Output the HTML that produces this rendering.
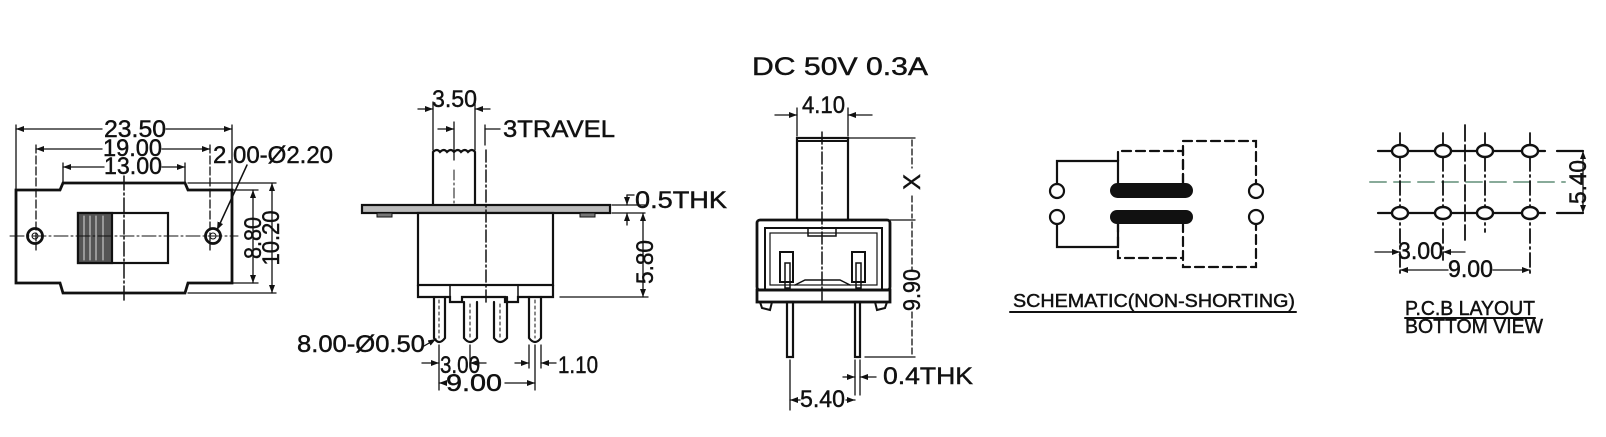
<!DOCTYPE html>
<html><head><meta charset="utf-8"><style>
html,body{margin:0;padding:0;background:#fff;}
svg{display:block;}
text{font-family:"Liberation Sans",sans-serif;fill:#111;stroke:#111;stroke-width:0.45;}
</style></head><body>
<svg width="1606" height="437" viewBox="0 0 1606 437" xmlns="http://www.w3.org/2000/svg">
<defs>
<marker id="a" markerWidth="8" markerHeight="6" refX="8" refY="3" orient="auto-start-reverse" markerUnits="userSpaceOnUse"><path d="M0,0 L8,3 L0,6 Z" fill="#111" stroke="none"/></marker>
</defs>
<g stroke="#111" fill="none" stroke-linecap="round">
<!-- ===== VIEW 1 ===== -->
<path d="M16,190 L60,190 L63,183 L185,183 L188,190 L232,190 L232,283 L188,283 L185,293 L63,293 L60,283 L16,283 Z" stroke-width="2.8"/>
<circle cx="35" cy="236" r="7.5" stroke-width="2.8"/><circle cx="35" cy="236" r="3" stroke-width="1"/>
<circle cx="213" cy="236" r="7.5" stroke-width="2.8"/><circle cx="213" cy="236" r="3" stroke-width="1"/>
<rect x="78" y="213" width="90" height="50" stroke-width="2.2"/>
<rect x="78" y="213" width="34" height="50" fill="#555" stroke-width="2.2"/>
<g stroke="#ddd" stroke-width="1"><line x1="84" y1="216" x2="84" y2="260"/><line x1="90" y1="216" x2="90" y2="260"/><line x1="96" y1="216" x2="96" y2="260"/><line x1="103" y1="216" x2="103" y2="260"/></g>
<line x1="124" y1="176" x2="124" y2="300" stroke-width="1.5" stroke-dasharray="14,3,2,3"/>
<line x1="10" y1="236" x2="238" y2="236" stroke-width="1" stroke-dasharray="14,3,2,3"/>
<g stroke-width="1.3">
<line x1="16" y1="125" x2="16" y2="190"/><line x1="232" y1="125" x2="232" y2="190"/>
<line x1="16" y1="129" x2="102" y2="129" marker-start="url(#a)"/><line x1="166" y1="129" x2="232" y2="129" marker-end="url(#a)"/>
<line x1="36" y1="145" x2="36" y2="250" stroke-dasharray="8,3"/><line x1="210" y1="145" x2="210" y2="250" stroke-dasharray="8,3"/>
<line x1="36" y1="149" x2="102" y2="149" marker-start="url(#a)"/><line x1="162" y1="149" x2="210" y2="149" marker-end="url(#a)"/>
<line x1="63" y1="163" x2="63" y2="183"/><line x1="185" y1="163" x2="185" y2="183"/>
<line x1="63" y1="167" x2="104" y2="167" marker-start="url(#a)"/><line x1="162" y1="167" x2="185" y2="167" marker-end="url(#a)"/>
<line x1="188" y1="183" x2="276" y2="183"/><line x1="232" y1="190" x2="258" y2="190"/>
<line x1="232" y1="283" x2="258" y2="283"/><line x1="188" y1="293" x2="276" y2="293"/>
<line x1="253" y1="190" x2="253" y2="283" marker-start="url(#a)" marker-end="url(#a)"/>
<line x1="272" y1="183" x2="272" y2="293" marker-start="url(#a)" marker-end="url(#a)"/>
<line x1="247" y1="165" x2="217" y2="230" stroke-width="1.5" marker-end="url(#a)"/>
</g>

<!-- ===== VIEW 2 ===== -->
<path d="M433,205 L433,152 Q437,148 440,152 Q444,148 447,152 Q451,148 454,152 Q458,148 461,152 Q465,148 468,152 Q472,148 475,152 L475,205" stroke-width="2.2"/>
<rect x="362" y="205" width="248" height="8" stroke-width="2.2" fill="#bbb"/>
<rect x="377" y="213" width="15" height="4" fill="#777" stroke-width="1"/><rect x="580" y="213" width="15" height="4" fill="#777" stroke-width="1"/>
<rect x="418" y="213" width="135" height="72" stroke-width="2.2" fill="#fff"/>
<path d="M418,285 L418,297 L450,297 L450,302 L462,302 L462,297 L505,297 L505,302 L518,302 L518,297 L553,297 L553,285" stroke-width="2.2"/>
<line x1="450" y1="285" x2="450" y2="297" stroke-width="1.5"/><line x1="518" y1="285" x2="518" y2="297" stroke-width="1.5"/>
<g stroke-width="2.2">
<path d="M434,297 L434,338 Q439,346 445,338 L445,297"/>
<path d="M464,302 L464,338 Q470,346 477,338 L477,302"/>
<path d="M494,302 L494,338 Q500,346 507,338 L507,297"/>
<path d="M529,297 L529,338 Q535,346 541,338 L541,297"/>
</g>
<g stroke-width="1" stroke-dasharray="3,3"><line x1="439" y1="300" x2="439" y2="338"/><line x1="470" y1="304" x2="470" y2="338"/><line x1="500" y1="304" x2="500" y2="338"/><line x1="535" y1="300" x2="535" y2="338"/></g>
<line x1="486" y1="150" x2="486" y2="305" stroke-width="1.5" stroke-dasharray="12,3,2,3"/>
<line x1="454" y1="170" x2="454" y2="205" stroke-width="1" stroke-dasharray="10,3,2,3"/>
<g stroke-width="1.3">
<line x1="433" y1="102" x2="433" y2="150"/><line x1="475" y1="102" x2="475" y2="150"/>
<line x1="418" y1="109" x2="433" y2="109" marker-end="url(#a)"/><line x1="490" y1="109" x2="475" y2="109" marker-end="url(#a)"/>
<line x1="438" y1="129" x2="454" y2="129" marker-end="url(#a)"/><line x1="454" y1="122" x2="454" y2="160"/>
<line x1="485" y1="125" x2="485" y2="145"/><line x1="485" y1="129" x2="500" y2="129"/>
<line x1="612" y1="205" x2="645" y2="205"/><line x1="612" y1="213" x2="645" y2="213"/>
<line x1="627" y1="195" x2="627" y2="205" marker-end="url(#a)"/><line x1="627" y1="225" x2="627" y2="213" marker-end="url(#a)"/>
<line x1="627" y1="195" x2="634" y2="195"/>
<line x1="560" y1="297" x2="648" y2="297"/>
<line x1="643" y1="213" x2="643" y2="297" marker-start="url(#a)" marker-end="url(#a)"/>
<line x1="439" y1="345" x2="439" y2="390"/><line x1="470" y1="345" x2="470" y2="368"/>
<line x1="529" y1="345" x2="529" y2="368"/><line x1="541" y1="345" x2="541" y2="368"/><line x1="535" y1="345" x2="535" y2="390"/>
<line x1="422" y1="363" x2="439" y2="363" marker-end="url(#a)"/><line x1="486" y1="363" x2="470" y2="363" marker-end="url(#a)"/>
<line x1="515" y1="363" x2="529" y2="363" marker-end="url(#a)"/><line x1="556" y1="363" x2="541" y2="363" marker-end="url(#a)"/>
<line x1="444" y1="383" x2="439" y2="383" marker-end="url(#a)"/><line x1="505" y1="383" x2="535" y2="383" marker-end="url(#a)"/>
<line x1="424" y1="346" x2="436" y2="339" marker-end="url(#a)"/>
</g>

<!-- ===== VIEW 3 ===== -->
<rect x="797" y="138" width="51" height="82" stroke-width="2.2"/>
<line x1="797" y1="141" x2="848" y2="141" stroke-width="2"/>
<rect x="757" y="220" width="133" height="70" stroke-width="2.8" rx="3"/>
<rect x="765" y="228" width="117" height="62" stroke-width="2"/>
<rect x="770" y="233" width="107" height="52" stroke-width="1.2"/>
<rect x="757" y="290" width="133" height="12" stroke-width="2.8"/>
<rect x="808" y="228" width="28" height="8" stroke-width="1.5"/>
<path d="M760,302 L762,308 L770,310 L772,302 M887,302 L885,308 L877,310 L875,302" stroke-width="2"/>
<rect x="780" y="252" width="13" height="30" stroke-width="2"/>
<rect x="852" y="252" width="13" height="30" stroke-width="2"/>
<rect x="785" y="263" width="5" height="25" stroke-width="1.5"/><rect x="856" y="263" width="5" height="25" stroke-width="1.5"/>
<path d="M795,285 L805,280 L840,280 L850,285" stroke-width="1.5"/>
<rect x="787" y="302" width="6" height="55" stroke-width="2.2"/>
<rect x="855" y="302" width="5" height="55" stroke-width="2.2"/>
<line x1="822" y1="132" x2="822" y2="300" stroke-width="1.5" stroke-dasharray="12,3,2,3"/>
<g stroke-width="1.3">
<line x1="797" y1="108" x2="797" y2="136"/><line x1="848" y1="108" x2="848" y2="136"/>
<line x1="775" y1="115" x2="797" y2="115" marker-end="url(#a)"/><line x1="872" y1="115" x2="848" y2="115" marker-end="url(#a)"/>
<line x1="848" y1="138" x2="915" y2="138"/><line x1="890" y1="220" x2="915" y2="220"/><line x1="865" y1="357" x2="915" y2="357"/>
<line x1="912" y1="140" x2="912" y2="168" stroke-dasharray="6,3" /><line x1="912" y1="196" x2="912" y2="218" stroke-dasharray="6,3"/>
<line x1="912" y1="222" x2="912" y2="270" stroke-dasharray="6,3"/><line x1="912" y1="312" x2="912" y2="355" stroke-dasharray="6,3"/>
<line x1="790" y1="360" x2="790" y2="410"/><line x1="855" y1="360" x2="855" y2="395"/><line x1="860" y1="360" x2="860" y2="395"/>
<line x1="843" y1="377" x2="855" y2="377" marker-end="url(#a)"/><line x1="876" y1="377" x2="860" y2="377" marker-end="url(#a)"/>
<line x1="800" y1="400" x2="790" y2="400" marker-end="url(#a)"/><line x1="846" y1="400" x2="855" y2="400" marker-end="url(#a)"/>
</g>

<!-- ===== SCHEMATIC ===== -->
<g stroke-width="2.2">
<path d="M1057,184 L1057,161 L1118,161 L1118,183"/>
<path d="M1057,224 L1057,247 L1118,247 L1118,223"/>
<circle cx="1057" cy="191" r="7"/><circle cx="1057" cy="217" r="7"/>
<circle cx="1256" cy="191" r="7"/><circle cx="1256" cy="217" r="7"/>
</g>
<g stroke-width="2.2" stroke-dasharray="9,5">
<path d="M1118,161 L1118,151 L1183,151 L1183,183"/>
<path d="M1118,223 L1118,258 L1183,258"/>
<path d="M1183,183 L1183,141 L1256,141 L1256,184"/>
<path d="M1183,223 L1183,267 L1256,267 L1256,224"/>
</g>
<rect x="1110" y="183" width="83" height="15" rx="7.5" fill="#111" stroke="none"/>
<rect x="1110" y="210" width="83" height="14" rx="7" fill="#111" stroke="none"/>
<line x1="1010" y1="312" x2="1296" y2="312" stroke-width="2"/>

<!-- ===== PCB ===== -->
<g stroke-width="2.2">
<line x1="1378" y1="151" x2="1545" y2="151"/><line x1="1378" y1="213" x2="1545" y2="213"/>
<line x1="1557" y1="151" x2="1583" y2="151"/><line x1="1557" y1="213" x2="1583" y2="213"/>
</g>
<line x1="1370" y1="182" x2="1565" y2="182" stroke="#8a9" stroke-width="2" stroke-dasharray="16,8"/>
<g stroke-width="1.8" stroke-dasharray="14,4,2,4">
<line x1="1400" y1="133" x2="1400" y2="275"/><line x1="1443" y1="133" x2="1443" y2="260"/>
<line x1="1485" y1="133" x2="1485" y2="232"/><line x1="1530" y1="133" x2="1530" y2="275"/>
</g>
<line x1="1465" y1="125" x2="1465" y2="240" stroke-width="1.8" stroke-dasharray="16,4"/>
<g stroke-width="2.4" fill="#fff">
<ellipse cx="1400" cy="151" rx="8" ry="6"/><ellipse cx="1443" cy="151" rx="8" ry="6"/><ellipse cx="1485" cy="151" rx="8" ry="6"/><ellipse cx="1530" cy="151" rx="8" ry="6"/>
<ellipse cx="1400" cy="213" rx="8" ry="6"/><ellipse cx="1443" cy="213" rx="8" ry="6"/><ellipse cx="1485" cy="213" rx="8" ry="6"/><ellipse cx="1530" cy="213" rx="8" ry="6"/>
</g>
<g stroke-width="1.3">
<line x1="1583" y1="151" x2="1583" y2="213" marker-start="url(#a)" marker-end="url(#a)"/>
<line x1="1375" y1="252" x2="1400" y2="252" marker-end="url(#a)"/><line x1="1465" y1="252" x2="1443" y2="252" marker-end="url(#a)"/>
<line x1="1448" y1="270" x2="1400" y2="270" marker-end="url(#a)"/><line x1="1493" y1="270" x2="1530" y2="270" marker-end="url(#a)"/>
</g>
<line x1="1405" y1="318" x2="1535" y2="318" stroke-width="2"/>
</g>

<!-- ===== TEXT ===== -->
<g font-size="24">
<text x="104" y="137" textLength="62" lengthAdjust="spacingAndGlyphs">23.50</text>
<text x="103" y="156" textLength="59" lengthAdjust="spacingAndGlyphs">19.00</text>
<text x="104" y="174" textLength="58" lengthAdjust="spacingAndGlyphs">13.00</text>
<text x="213" y="163" textLength="120" lengthAdjust="spacingAndGlyphs">2.00-Ø2.20</text>
<text transform="translate(261,238) rotate(-90)" text-anchor="middle" textLength="42" lengthAdjust="spacingAndGlyphs">8.80</text>
<text transform="translate(279,238) rotate(-90)" text-anchor="middle" textLength="55" lengthAdjust="spacingAndGlyphs">10.20</text>

<text x="432" y="107" textLength="45" lengthAdjust="spacingAndGlyphs">3.50</text>
<text x="503" y="137" textLength="112" lengthAdjust="spacingAndGlyphs">3TRAVEL</text>
<text x="635" y="208" textLength="92" lengthAdjust="spacingAndGlyphs">0.5THK</text>
<text transform="translate(653,262) rotate(-90)" text-anchor="middle" textLength="44" lengthAdjust="spacingAndGlyphs">5.80</text>
<text x="297" y="352" textLength="128" lengthAdjust="spacingAndGlyphs">8.00-Ø0.50</text>
<text x="440" y="373" textLength="40" lengthAdjust="spacingAndGlyphs">3.00</text>
<text x="558" y="373" textLength="40" lengthAdjust="spacingAndGlyphs">1.10</text>
<text x="446" y="391" textLength="56" lengthAdjust="spacingAndGlyphs">9.00</text>

<text x="752" y="75" font-size="25" textLength="176" lengthAdjust="spacingAndGlyphs">DC  50V  0.3A</text>
<text x="802" y="113" textLength="43" lengthAdjust="spacingAndGlyphs">4.10</text>
<text transform="translate(920,182) rotate(-90)" text-anchor="middle">X</text>
<text transform="translate(920,290) rotate(-90)" text-anchor="middle" textLength="42" lengthAdjust="spacingAndGlyphs">9.90</text>
<text x="883" y="384" textLength="90" lengthAdjust="spacingAndGlyphs">0.4THK</text>
<text x="800" y="407" textLength="45" lengthAdjust="spacingAndGlyphs">5.40</text>

<text x="1013" y="307" font-size="18" textLength="282" lengthAdjust="spacingAndGlyphs">SCHEMATIC(NON-SHORTING)</text>

<text x="1398" y="259" textLength="45" lengthAdjust="spacingAndGlyphs">3.00</text>
<text x="1448" y="277" textLength="45" lengthAdjust="spacingAndGlyphs">9.00</text>
<text transform="translate(1586,182) rotate(-90)" text-anchor="middle" textLength="44" lengthAdjust="spacingAndGlyphs">5.40</text>
<text x="1405" y="315" font-size="20" textLength="130" lengthAdjust="spacingAndGlyphs">P.C.B LAYOUT</text>
<text x="1405" y="333" font-size="20" textLength="138" lengthAdjust="spacingAndGlyphs">BOTTOM VIEW</text>
</g>
</svg>
</body></html>
